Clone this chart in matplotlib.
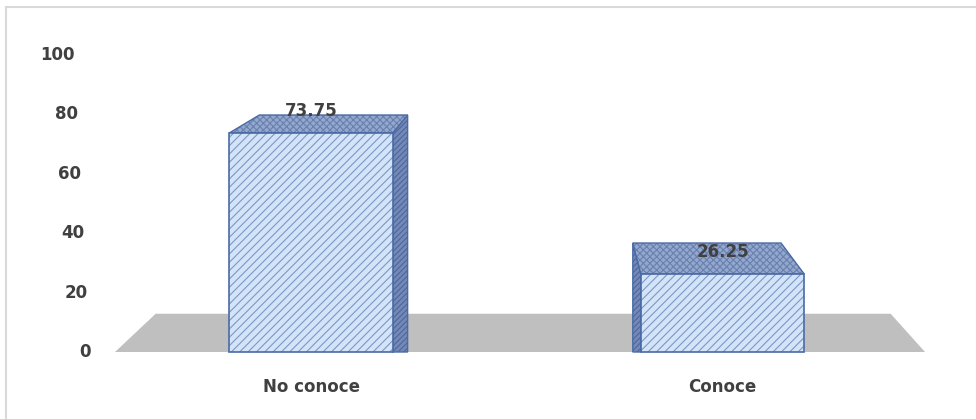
import numpy as np
import matplotlib.pyplot as plt
from matplotlib.patches import Polygon
from matplotlib.lines import Line2D

# datos
categorias = ['No conoce', 'Conoce']
porcentajes = [73.75, 26.25]
ticks_y = [0, 20, 40, 60, 80, 100]

plt.rcParams['hatch.linewidth'] = 0.8

fig = plt.figure(figsize=(9.76, 4.19), dpi=100)
ax = fig.add_axes([0, 0, 1, 1])
ax.set_xlim(-0.7558, 1.6160)
ax.set_ylim(-22.56, 118.52)
ax.axis('off')

# punto de fuga y profundidad de la perspectiva
vpx, vpy, k = 0.5905, 139.06, 0.0926


def fondo(x, y):
    return (x + k * (vpx - x), y + k * (vpy - y))


# piso gris
f0, f1 = -0.4763, 1.4921
piso = [(f0, 0), (f1, 0), fondo(f1, 0), fondo(f0, 0)]
ax.add_patch(Polygon(piso, closed=True, facecolor='#bfbfbf', edgecolor='none', zorder=1))

ancho = 0.397
borde = '#4a6aa5'
x = np.arange(len(categorias))

for xi, v in zip(x, porcentajes):
    x0, x1 = xi - ancho / 2, xi + ancho / 2
    # cara lateral (baja hasta el frente del piso)
    xl = x1 if x1 < vpx else x0
    xb = fondo(xl, v)[0]
    lado = [(xl, 0), (xl, v), fondo(xl, v), (xb, 0)]
    ax.add_patch(Polygon(lado, closed=True, facecolor='#7389b8', edgecolor='#4d669a',
                         hatch='//////', lw=0, zorder=2))
    ax.add_patch(Polygon(lado, closed=True, fill=False, edgecolor=borde, lw=1, zorder=2))
    # cara superior
    tapa = [(x0, v), (x1, v), fondo(x1, v), fondo(x0, v)]
    ax.add_patch(Polygon(tapa, closed=True, facecolor='#93a8cf', edgecolor='#6a80ac',
                         hatch='xxxxx', lw=0, zorder=3))
    ax.add_patch(Polygon(tapa, closed=True, fill=False, edgecolor=borde, lw=1, zorder=3))

# cara frontal
ax.bar(x, porcentajes, width=ancho, color='#d3e3f8', edgecolor='#7d97c6',
       hatch='////', lw=0, zorder=4)
ax.bar(x, porcentajes, width=ancho, fill=False, edgecolor=borde, lw=1.2, zorder=5)

# etiquetas de valor
for xi, v in zip(x, porcentajes):
    ax.text(xi, v + 7.4, f'{v:.2f}', ha='center', va='center', fontsize=12,
            fontweight='bold', color='#404040', zorder=6)

# eje y (inclinado por la perspectiva)
for t in ticks_y:
    px = 91 - t * 0.16
    ax.text((px - 311) / 411.5, t, str(t), ha='right', va='center', fontsize=12,
            fontweight='bold', color='#404040')

# categorias
for xi, c in zip(x, categorias):
    ax.text(xi, -11.8, c, ha='center', va='center', fontsize=12,
            fontweight='bold', color='#404040')

# marco
fig.add_artist(Line2D([6 / 976, 6 / 976], [0, 1 - 7 / 419], transform=fig.transFigure,
                      color='#d9d9d9', lw=1.5))
fig.add_artist(Line2D([6 / 976, 1], [1 - 7 / 419, 1 - 7 / 419], transform=fig.transFigure,
                      color='#d9d9d9', lw=1.5))

fig.savefig('out.png', dpi=100)
